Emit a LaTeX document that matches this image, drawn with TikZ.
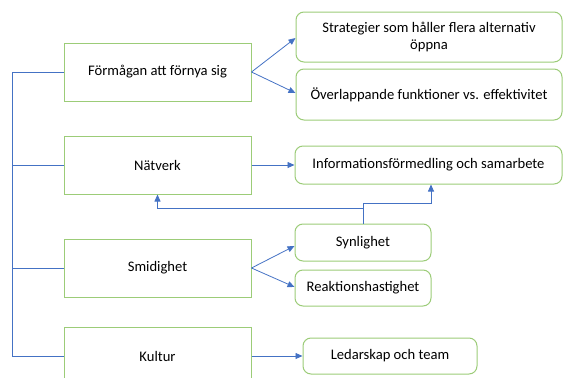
\documentclass[tikz,border=0pt]{standalone}
\usepackage{fontspec}
\setmainfont{Carlito}
\usetikzlibrary{arrows.meta}
\definecolor{boxgreen}{RGB}{156,204,120}
\definecolor{linkblue}{RGB}{68,114,196}
\tikzset{
  mainbox/.style = {rectangle, draw=boxgreen, line width=1pt, fill=white, align=center, inner sep=2pt, minimum width=187pt, minimum height=58pt, font=\fontsize{14.6}{17}\selectfont},
  subbox/.style = {rectangle, rounded corners=8pt, draw=boxgreen, line width=1pt, fill=white, align=center, inner sep=2pt, font=\fontsize{14.6}{17}\selectfont},
  link/.style = {draw=linkblue, line width=0.8pt, -{Triangle[length=7pt,width=6pt]}},
  spine/.style = {draw=linkblue, line width=0.8pt}
}
\begin{document}
\begin{tikzpicture}[x=1pt, y=-1pt]
    \useasboundingbox (0,0) rectangle (563,378);
    % left column
    \node[mainbox] (formaga) at (157.5,72) {Förmågan att förnya sig};
    \node[mainbox] (natverk) at (157.5,165) {Nätverk};
    \node[mainbox] (smidighet) at (157.5,268) {Smidighet};
    \node[mainbox] (kultur) at (157.5,356) {Kultur};
    % right column
    \node[subbox, minimum width=266pt, minimum height=50pt] (strategier) at (429,37) {Strategier som håller flera alternativ\\öppna};
    \node[subbox, minimum width=266pt, minimum height=51pt] (overlapp) at (429,94.5) {Överlappande funktioner vs. effektivitet};
    \node[subbox, minimum width=267pt, minimum height=38pt] (info) at (428.5,165) {Informationsförmedling och samarbete};
    \node[subbox, minimum width=136pt, minimum height=37pt] (synlighet) at (363,242.5) {Synlighet};
    \node[subbox, minimum width=136pt, minimum height=36pt] (reaktion) at (363,288) {Reaktionshastighet};
    \node[subbox, minimum width=174pt, minimum height=36pt] (ledarskap) at (390,356) {Ledarskap och team};
    % spine on the left
    \coordinate (spinetop) at (12,72);
    \draw[spine] (formaga.west) -- (spinetop) -- (spinetop |- kultur.west) -- (kultur.west);
    \draw[spine] (natverk.west) -- (natverk.west -| spinetop);
    \draw[spine] (smidighet.west) -- (smidighet.west -| spinetop);
    % arrows
    \draw[link] (formaga.east) -- ([yshift=-1pt]strategier.west);
    \draw[link] (formaga.east) -- ([yshift=1.5pt]overlapp.west);
    \draw[link] (natverk.east) -- (info.west);
    \draw[link] (smidighet.east) -- ([yshift=-3.5pt]synlighet.west);
    \draw[link] (smidighet.east) -- ([yshift=1pt]reaktion.west);
    \draw[link] (kultur.east) -- (ledarskap.west);
    \draw[link] (synlighet.north) -- ++(0,-15) -| (natverk.south);
    \draw[link] (synlighet.north) -- ++(0,-20) -| ([xshift=2.5pt]info.south);
\end{tikzpicture}
\end{document}
